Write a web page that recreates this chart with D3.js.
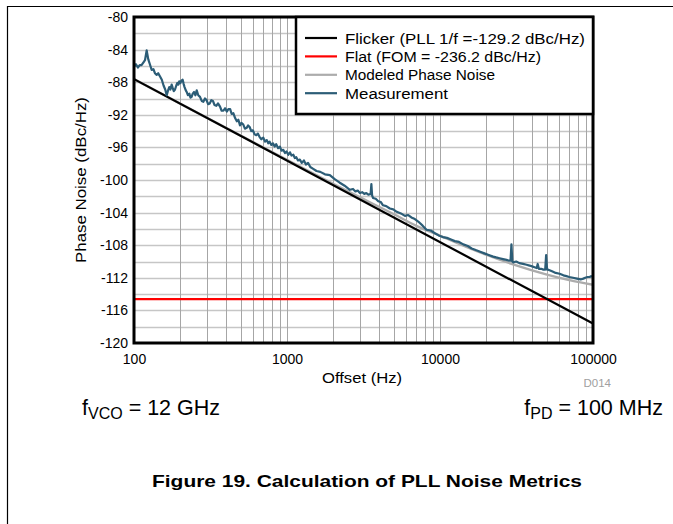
<!DOCTYPE html>
<html><head><meta charset="utf-8">
<script src="https://cdn.jsdelivr.net/npm/d3@7"></script>
<style>
body{margin:0;background:#fff;}
text{font-family:"Liberation Sans",Arial,sans-serif;}
</style></head>
<body><svg id="c" width="673" height="524"></svg>
<script>
const xTicks = [100, 1000, 10000, 100000];
const yTicks = [-80,-84,-88,-92,-96,-100,-104,-108,-112,-116,-120];
const seriesNames = ["Flicker (PLL 1/f =-129.2 dBc/Hz)","Flat (FOM = -236.2 dBc/Hz)","Modeled Phase Noise","Measurement"];
const seriesColors = ["#000000","#ff0000","#acacac","#2c5d77"];
const flicker = [[100,-87.62],[100000,-117.62]];
const flat = [[100,-114.62],[100000,-114.62]];
const modeled = [[100,-87.62],[300,-92.38],[1000,-97.53],[2000,-100.46],[3000,-102.13],[5000,-104.20],[7000,-105.62],[10000,-106.83],[15000,-108.24],[20000,-109.17],[30000,-110.35],[50000,-111.6],[70000,-112.28],[100000,-112.86]];
const measurement = [[100,-86.1],[103,-85.8],[106,-86.2],[109,-85.9],[112,-85.9],[115,-85.6],[118,-85.3],[121,-84.1],[124,-85.2],[127,-85.8],[130.5,-86.5],[134,-86.4],[137,-86.9],[140.7,-87.1],[144,-86.9],[148,-87.3],[152,-87.7],[156,-88.4],[160,-88.9],[163.6,-89.6],[167,-89.0],[170,-88.6],[173,-88.9],[176.3,-88.3],[179,-88.7],[182,-89.1],[185.4,-88.9],[189,-88.4],[192,-88.1],[195,-88.3],[197.6,-87.9],[201,-88.1],[204,-87.8],[208,-87.7],[211,-88.2],[214,-88.6],[218,-89.0],[221,-89.2],[225,-89.6],[230,-89.4],[234,-89.9],[238,-89.8],[242,-89.4],[247,-89.2],[252,-89.6],[257,-89.0],[263,-89.6],[270,-89.8],[277,-90.3],[284,-90.4],[291,-90.0],[298,-90.2],[305,-90.7],[313,-90.6],[320,-90.2],[328,-90.3],[336,-90.8],[345,-90.9],[354,-90.6],[365,-91.0],[374,-91.5],[384,-91.5],[394,-91.2],[404,-91.6],[414,-91.3],[425,-91.3],[435,-91.9],[446,-91.8],[458,-92.4],[470,-92.8],[481,-92.6],[493,-93.3],[505,-93.0],[518,-93.2],[531,-93.7],[545,-93.6],[557,-93.3],[570,-93.5],[584,-94.0],[598,-93.9],[614,-94.4],[630,-94.5],[645,-94.3],[661,-94.7],[680,-95.0],[700,-94.8],[718,-95.3],[737,-95.1],[754,-95.5],[770,-95.3],[790,-95.7],[810,-95.5],[830,-95.9],[850,-95.6],[875,-96.1],[899,-95.9],[920,-96.4],[945,-96.3],[970,-96.7],[993,-96.5],[1020,-96.9],[1045,-96.6],[1070,-97.0],[1100,-96.9],[1125,-97.3],[1150,-97.2],[1180,-97.6],[1213,-97.5],[1250,-97.9],[1290,-97.6],[1330,-98.1],[1372,-97.9],[1420,-98.4],[1475,-98.6],[1560,-98.9],[1650,-99.0],[1770,-99.3],[1905,-99.4],[2050,-99.9],[2200,-100.3],[2380,-100.7],[2575,-101.2],[2700,-101.1],[2800,-101.4],[2900,-101.3],[2996,-101.6],[3100,-101.5],[3200,-101.7],[3300,-101.6],[3403,-101.8],[3520,-101.7],[3560,-100.5],[3600,-101.9],[3647,-102.2],[3800,-102.3],[3950,-102.6],[4100,-102.7],[4243,-103.1],[4450,-103.2],[4700,-103.5],[4950,-103.6],[5213,-103.9],[5550,-104.1],[5900,-104.4],[6200,-104.3],[6500,-104.6],[6850,-104.8],[7205,-105.1],[7700,-105.6],[8157,-106.1],[8700,-106.2],[9200,-106.5],[9800,-106.8],[10430,-107.0],[11100,-107.1],[11800,-107.3],[12500,-107.5],[13310,-107.6],[14200,-107.9],[15200,-108.1],[16100,-108.4],[17120,-108.6],[18300,-108.8],[19500,-109.0],[20800,-109.2],[22260,-109.4],[23300,-109.5],[24500,-109.6],[25800,-109.7],[27220,-109.8],[28300,-109.9],[28900,-109.9],[29300,-107.9],[29700,-110.0],[30050,-110.1],[31500,-110.0],[33000,-110.2],[34900,-110.3],[36810,-110.4],[38500,-110.5],[40000,-110.6],[41500,-110.7],[42840,-110.8],[43500,-110.3],[44300,-110.9],[45800,-110.9],[47370,-111.0],[48700,-111.0],[49400,-109.2],[50100,-111.0],[51000,-111.0],[54000,-111.2],[57000,-111.4],[60500,-111.5],[64070,-111.7],[67000,-111.8],[70000,-111.9],[74000,-112.0],[78550,-112.1],[83000,-112.2],[86460,-112.1],[89000,-112.0],[92000,-111.9],[95000,-111.9],[97200,-111.8],[100000,-111.9]];

const svg = d3.select("#c");
const W=673,H=524;
const FONT = "'Liberation Sans',Arial,sans-serif";
const m = {l:134, t:17, r:593, b:343};
const x = d3.scaleLog().domain([100,100000]).range([m.l,m.r]);
const y = d3.scaleLinear().domain([-120,-80]).range([m.b,m.t]);

function fit(sel, w){ sel.attr("textLength", w).attr("lengthAdjust","spacingAndGlyphs"); return sel; }

// page frame
svg.append("line").attr("x1",7).attr("x2",W).attr("y1",6.5).attr("y2",6.5).attr("stroke","#000").attr("stroke-width",1.2);
svg.append("line").attr("x1",7.5).attr("x2",7.5).attr("y1",6).attr("y2",H).attr("stroke","#000").attr("stroke-width",1.2);

// grid
const hg = d3.range(-118,-80,2);
svg.append("g").selectAll("line").data(hg).join("line")
  .attr("x1",m.l).attr("x2",m.r).attr("y1",d=>Math.round(y(d))+0.5).attr("y2",d=>Math.round(y(d))+0.5)
  .attr("stroke","#c6c6c6").attr("stroke-width",1.4);
const vg = x.ticks().filter(d=>d>100 && d<100000);
svg.append("g").selectAll("line").data(vg).join("line")
  .attr("x1",d=>Math.round(x(d))+0.5).attr("x2",d=>Math.round(x(d))+0.5).attr("y1",m.t).attr("y2",m.b)
  .attr("stroke","#a6a6a6").attr("stroke-width",1);

const line = d3.line().x(d=>x(d[0])).y(d=>y(d[1]));
svg.append("clipPath").attr("id","pc").append("rect").attr("x",m.l).attr("y",m.t).attr("width",m.r-m.l).attr("height",m.b-m.t);
const g = svg.append("g").attr("clip-path","url(#pc)");
g.append("path").datum(flat).attr("d",line).attr("fill","none").attr("stroke",seriesColors[1]).attr("stroke-width",2.2);
g.append("path").datum(modeled).attr("d",d3.line().curve(d3.curveMonotoneX).x(d=>x(d[0])).y(d=>y(d[1]))).attr("fill","none").attr("stroke",seriesColors[2]).attr("stroke-width",2.4);
g.append("path").datum(flicker).attr("d",line).attr("fill","none").attr("stroke",seriesColors[0]).attr("stroke-width",2.2);
g.append("path").datum(measurement).attr("d",line).attr("fill","none").attr("stroke",seriesColors[3]).attr("stroke-width",2.2).attr("stroke-linejoin","round");

// axes
const ya = d3.axisLeft(y).tickValues(yTicks).tickSize(0).tickPadding(6).tickFormat(d=>String(d));
const yg = svg.append("g").attr("transform",`translate(${m.l},0)`).call(ya);
yg.select(".domain").remove();
yg.attr("font-family",FONT).attr("font-size",14);
yg.selectAll("text").attr("fill","#000");
const xa = d3.axisBottom(x).tickValues(xTicks).tickSize(0).tickPadding(11).tickFormat(d=>String(d));
const xg = svg.append("g").attr("transform",`translate(0,${m.b})`).call(xa);
xg.select(".domain").remove();
xg.attr("font-family",FONT).attr("font-size",14);
xg.selectAll("text").attr("fill","#000");

// plot border
svg.append("rect").attr("x",m.l).attr("y",m.t).attr("width",m.r-m.l).attr("height",m.b-m.t).attr("fill","none").attr("stroke","#000").attr("stroke-width",3);

// legend
const lg = svg.append("g");
lg.append("rect").attr("x",296).attr("y",m.t).attr("width",m.r-296).attr("height",97).attr("fill","#fff").attr("stroke","#000").attr("stroke-width",2.5);
const legW = [240, 196, 150, 103];
seriesNames.forEach((n,i)=>{
  const yy = 38 + i*18.4;
  lg.append("line").attr("x1",305).attr("x2",337).attr("y1",yy).attr("y2",yy).attr("stroke",seriesColors[i]).attr("stroke-width",2.2);
  fit(lg.append("text").attr("x",345).attr("y",yy+5.5).attr("font-size",15.5).text(n), legW[i]);
});

// titles
fit(svg.append("text").attr("transform","translate(86,180) rotate(-90)").attr("text-anchor","middle").attr("font-size",14.5).text("Phase Noise (dBc/Hz)"),166);
fit(svg.append("text").attr("x",362).attr("y",383).attr("text-anchor","middle").attr("font-size",15.5).text("Offset (Hz)"),80);
svg.append("text").attr("x",611).attr("y",387).attr("text-anchor","end").attr("font-size",11.5).attr("fill","#a0a0a0").text("D014");

const t1 = svg.append("text").attr("x",82).attr("y",415).attr("font-size",21.5);
t1.append("tspan").text("f");
t1.append("tspan").attr("font-size",16).attr("dy",4).text("VCO");
t1.append("tspan").attr("dy",-4).text(" = 12 GHz");
const t2 = svg.append("text").attr("x",663).attr("y",415).attr("font-size",21.5).attr("text-anchor","end");
t2.append("tspan").text("f");
t2.append("tspan").attr("font-size",16).attr("dy",4).text("PD");
t2.append("tspan").attr("dy",-4).text(" = 100 MHz");

fit(svg.append("text").attr("x",367).attr("y",487).attr("text-anchor","middle").attr("font-size",17).attr("font-weight","bold").text("Figure 19. Calculation of PLL Noise Metrics"),430);
</script></body></html>
